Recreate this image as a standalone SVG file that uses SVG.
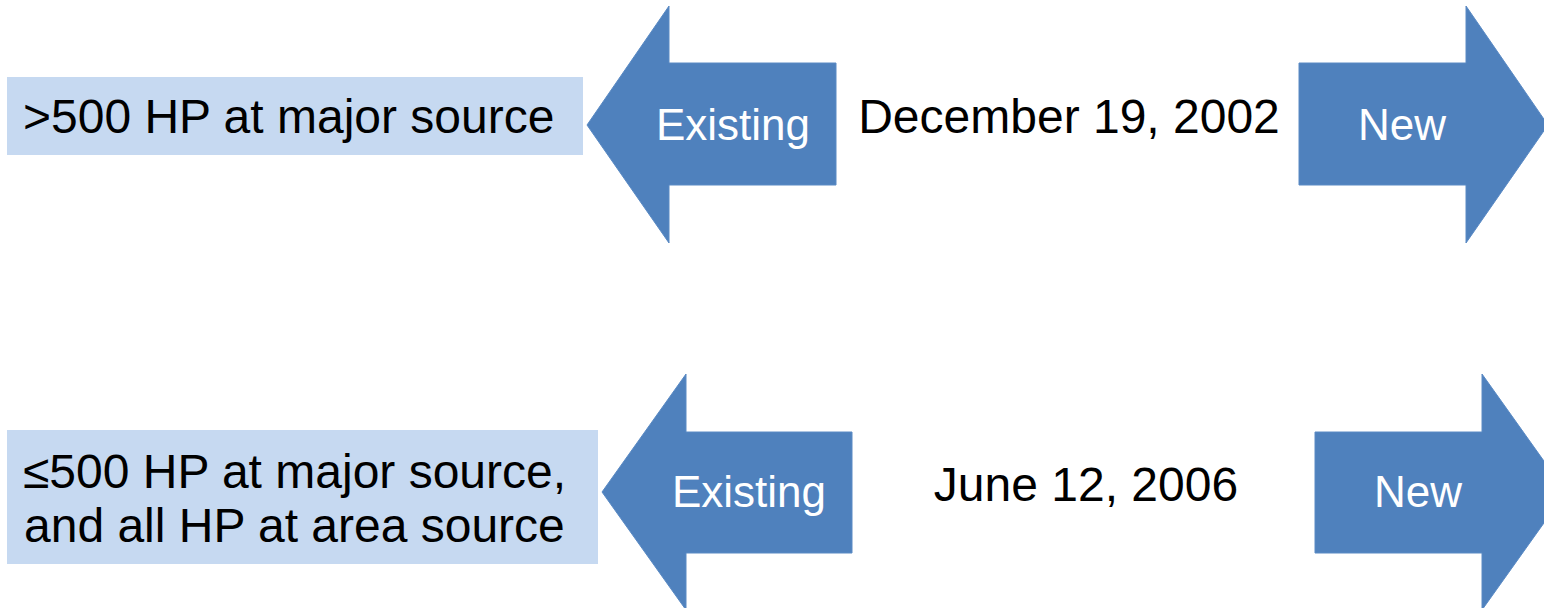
<svg xmlns="http://www.w3.org/2000/svg" width="1544" height="608" viewBox="0 0 1544 608">
<style>
.arrow{fill:#4F81BD;stroke:#5A8AC4;stroke-width:1}
.box{fill:#C6D9F1}
.lbl{font-family:"Liberation Sans",Arial,sans-serif;font-size:44px;fill:#FFFFFF;text-anchor:middle}
.txt{font-family:"Liberation Sans",Arial,sans-serif;font-size:48px;fill:#000000}
.mid{text-anchor:middle}
</style>
<rect width="1544" height="608" fill="#FFFFFF"/>
<g id="box-major">
<rect class="box" x="7" y="77" width="576" height="78"/>
<text class="txt" x="23" y="133">&gt;500 HP at major source</text>
</g>
<g id="existing-1">
<polygon class="arrow" points="587,125 669,6 669,63 836,63 836,185 669,185 669,243"/>
<text class="lbl" x="733" y="140">Existing</text>
</g>
<g id="date-1">
<text class="txt mid" x="1069" y="133">December 19, 2002</text>
</g>
<g id="new-1">
<polygon class="arrow" points="1299,63 1466,63 1466,6 1548,125 1466,243 1466,185 1299,185"/>
<text class="lbl" x="1402" y="140">New</text>
</g>
<g id="box-area">
<rect class="box" x="7" y="430" width="591" height="134"/>
<text class="txt" x="23" y="488">≤500 HP at major source,</text>
<text class="txt" x="24" y="542">and all HP at area source</text>
</g>
<g id="existing-2">
<polygon class="arrow" points="602,492 686,374 686,432 852,432 852,553 686,553 686,610"/>
<text class="lbl" x="749" y="507">Existing</text>
</g>
<g id="date-2">
<text class="txt mid" x="1086" y="501">June 12, 2006</text>
</g>
<g id="new-2">
<polygon class="arrow" points="1315,432 1482,432 1482,374 1566,492 1482,610 1482,553 1315,553"/>
<text class="lbl" x="1418" y="507">New</text>
</g>
<g id="connectors"></g>
</svg>
